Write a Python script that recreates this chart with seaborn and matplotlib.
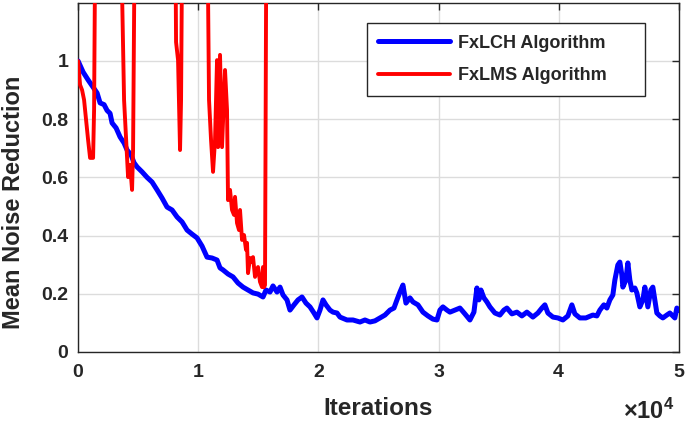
import numpy as np
import pandas as pd
import matplotlib
matplotlib.use("Agg")
import matplotlib.pyplot as plt
from matplotlib.patches import Rectangle
import seaborn as sns

# ---- data ----
lch_x = [0, 416, 832, 1248, 1581, 1830, 2163, 2413, 2662, 2829, 3162, 3494, 3827, 4077, 4410,
         4659, 4909, 5325, 5741, 6157, 6573, 6989, 7405, 7821, 8237, 8653, 9069, 9485, 9901,
         10316, 10732, 11148, 11564, 11813, 12063, 12479, 12895, 13311, 13727, 14143, 14559,
         14975, 15391, 15640, 15973, 16222, 16555, 16805, 17054, 17387, 17637, 17970, 18303,
         18636, 18968, 19301, 19634, 19884, 20133, 20383, 20632, 20965, 21215, 21548, 21797,
         22380, 22879, 23461, 23877, 24293, 24709, 25125, 25541, 25957, 26290, 26539, 26789,
         27038, 27288, 27621, 27870, 28286, 28702, 29118, 29534, 29867, 30116, 30366, 30699,
         30948, 31364, 31780, 32196, 32612, 32945, 33194, 33361, 33528, 33777, 34027, 34276,
         34692, 35108, 35441, 35690, 36106, 36522, 36938, 37354, 37853, 38269, 38602, 38851,
         39101, 39517, 39933, 40349, 40765, 41098, 41347, 41763, 42262, 42845, 43178, 43427,
         43760, 44009, 44259, 44508, 44675, 44924, 45091, 45257, 45341, 45590, 45757, 45923,
         46090, 46340, 46506, 46756, 47005, 47172, 47338, 47421, 47671, 47837, 48004, 48170,
         48420, 48669, 49002, 49252, 49501, 49668, 49834, 50000]
lch_y = [1.0, 0.962, 0.935, 0.91, 0.89, 0.856, 0.85, 0.83, 0.82, 0.787, 0.77, 0.739, 0.718, 0.694, 0.677,
         0.65, 0.636, 0.619, 0.60, 0.584, 0.557, 0.529, 0.498, 0.488, 0.464, 0.447, 0.419, 0.405, 0.392,
         0.364, 0.326, 0.323, 0.316, 0.289, 0.282, 0.268, 0.258, 0.237, 0.223, 0.213, 0.203,
         0.199, 0.189, 0.213, 0.206, 0.227, 0.206, 0.223, 0.196, 0.179, 0.144, 0.162, 0.179,
         0.189, 0.168, 0.155, 0.134, 0.117, 0.144, 0.179, 0.162, 0.144, 0.137, 0.134, 0.120,
         0.110, 0.110, 0.103, 0.110, 0.103, 0.107, 0.117, 0.127, 0.144, 0.151, 0.179, 0.206,
         0.230, 0.168, 0.186, 0.172, 0.162, 0.137, 0.124, 0.113, 0.110, 0.144, 0.155, 0.144,
         0.137, 0.144, 0.151, 0.131, 0.110, 0.137, 0.220, 0.179, 0.213, 0.186, 0.172, 0.155,
         0.134, 0.127, 0.144, 0.151, 0.131, 0.137, 0.124, 0.137, 0.120, 0.134, 0.151, 0.162,
         0.134, 0.120, 0.117, 0.110, 0.124, 0.162, 0.131, 0.117, 0.117, 0.127, 0.124, 0.144,
         0.162, 0.151, 0.179, 0.196, 0.247, 0.299, 0.309, 0.265, 0.223, 0.247, 0.306, 0.247,
         0.213, 0.220, 0.203, 0.155, 0.179, 0.223, 0.179, 0.155, 0.213, 0.223, 0.179, 0.134,
         0.124, 0.117, 0.127, 0.134, 0.124, 0.117, 0.151, 0.144]

lms_x = [0, 166, 333, 499, 666, 832, 998, 1248, 1331, 1456, 3494, 3827, 4160, 4326, 4492, 4576,
         4742, 8070, 8154, 8320, 8486, 8570, 8694, 10732, 10898, 11065, 11231, 11398, 11564,
         11647, 11813, 11980, 12229, 12396, 12479, 12645, 12812, 12978, 13061, 13228, 13394,
         13477, 13644, 13810, 13977, 14060, 14143, 14310, 14476, 14559, 14726, 14892, 14975,
         15141, 15308, 15391, 15474, 15557, 15682]
lms_y = [1.0, 0.918, 0.90, 0.866, 0.797, 0.729, 0.667, 0.667, 0.832, 1.6, 1.6, 0.866, 0.601, 0.643,
         0.557, 0.694, 1.6, 1.6, 1.065, 1.003, 0.694, 0.866, 1.6, 1.6, 0.866, 0.729, 0.619, 0.729,
         1.003, 0.704, 1.021, 0.704, 0.969, 0.832, 0.522, 0.557, 0.488, 0.471, 0.533, 0.443, 0.419,
         0.488, 0.385, 0.402, 0.351, 0.375, 0.271, 0.323, 0.309, 0.326, 0.258, 0.282, 0.292,
         0.241, 0.223, 0.292, 0.223, 0.230, 1.6]

x_ticks = [0, 10000, 20000, 30000, 40000, 50000]
x_tick_labels = ["0", "1", "2", "3", "4", "5"]
y_ticks = [0, 0.2, 0.4, 0.6, 0.8, 1.0]
y_tick_labels = ["0", "0.2", "0.4", "0.6", "0.8", "1"]

# ---- style ----
sns.set_style("whitegrid")
plt.rcParams["font.family"] = ["Liberation Sans", "DejaVu Sans"]
plt.rcParams["font.weight"] = "bold"
plt.rcParams["mathtext.fontset"] = "custom"
plt.rcParams["mathtext.rm"] = "Liberation Sans:bold"
plt.rcParams["mathtext.bf"] = "Liberation Sans:bold"
plt.rcParams["mathtext.it"] = "Liberation Sans:bold"

fig = plt.figure(figsize=(6.85, 4.29), dpi=100)
ax = fig.add_axes([0.114, 0.1795, 0.877, 0.8140])

lch = pd.DataFrame({"x": lch_x, "y": lch_y})
lms = pd.DataFrame({"x": lms_x, "y": lms_y})
sns.lineplot(data=lch, x="x", y="y", ax=ax, color="#0000ff", lw=3.6, sort=False,
             estimator=None, label="FxLCH Algorithm", zorder=3)
sns.lineplot(data=lms, x="x", y="y", ax=ax, color="#ff0000", lw=2.8, sort=False,
             estimator=None, label="FxLMS Algorithm", zorder=4)

ax.set_xlim(0, 50000)
ax.set_ylim(0, 1.2)
ax.set_xticks(x_ticks)
ax.set_xticklabels(x_tick_labels)
ax.set_yticks(y_ticks)
ax.set_yticklabels(y_tick_labels)
ax.tick_params(axis="both", which="both", direction="in", length=5, width=1,
               labelsize=14, top=True, right=True, color="#262626")
ax.tick_params(axis="x", pad=9)
ax.tick_params(axis="y", pad=7)
for lab in ax.get_xticklabels() + ax.get_yticklabels():
    lab.set_fontweight("bold")
ax.grid(True, color="#dcdcdc", lw=1.0)
for s in ax.spines.values():
    s.set_visible(True)
    s.set_color("#262626")
    s.set_linewidth(1.0)

ax.set_xlabel("Iterations", fontsize=17.5, fontweight="bold", labelpad=11)
ax.set_ylabel("Mean Noise Reduction", fontsize=17, fontweight="bold")
ax.yaxis.set_label_coords(-0.088, 0.43)

fig.text(0.984, 0.042, "×10$^{4}$", ha="right", va="center", fontsize=17, fontweight="bold")

# legend frame (matlab-style wide box)
ax.add_patch(Rectangle((0.481, 0.733), 0.462, 0.209, transform=ax.transAxes,
                       facecolor="white", edgecolor="#262626", lw=1.0, zorder=6))
leg = ax.legend(loc="center left", bbox_to_anchor=(0.499, 0.838), fontsize=13,
                handlelength=4.0, handletextpad=0.45, frameon=False, borderpad=0,
                labelspacing=0.85, borderaxespad=0)
leg.set_zorder(7)
for t in leg.get_texts():
    t.set_fontweight("bold")

fig.savefig("out.png", dpi=100)
